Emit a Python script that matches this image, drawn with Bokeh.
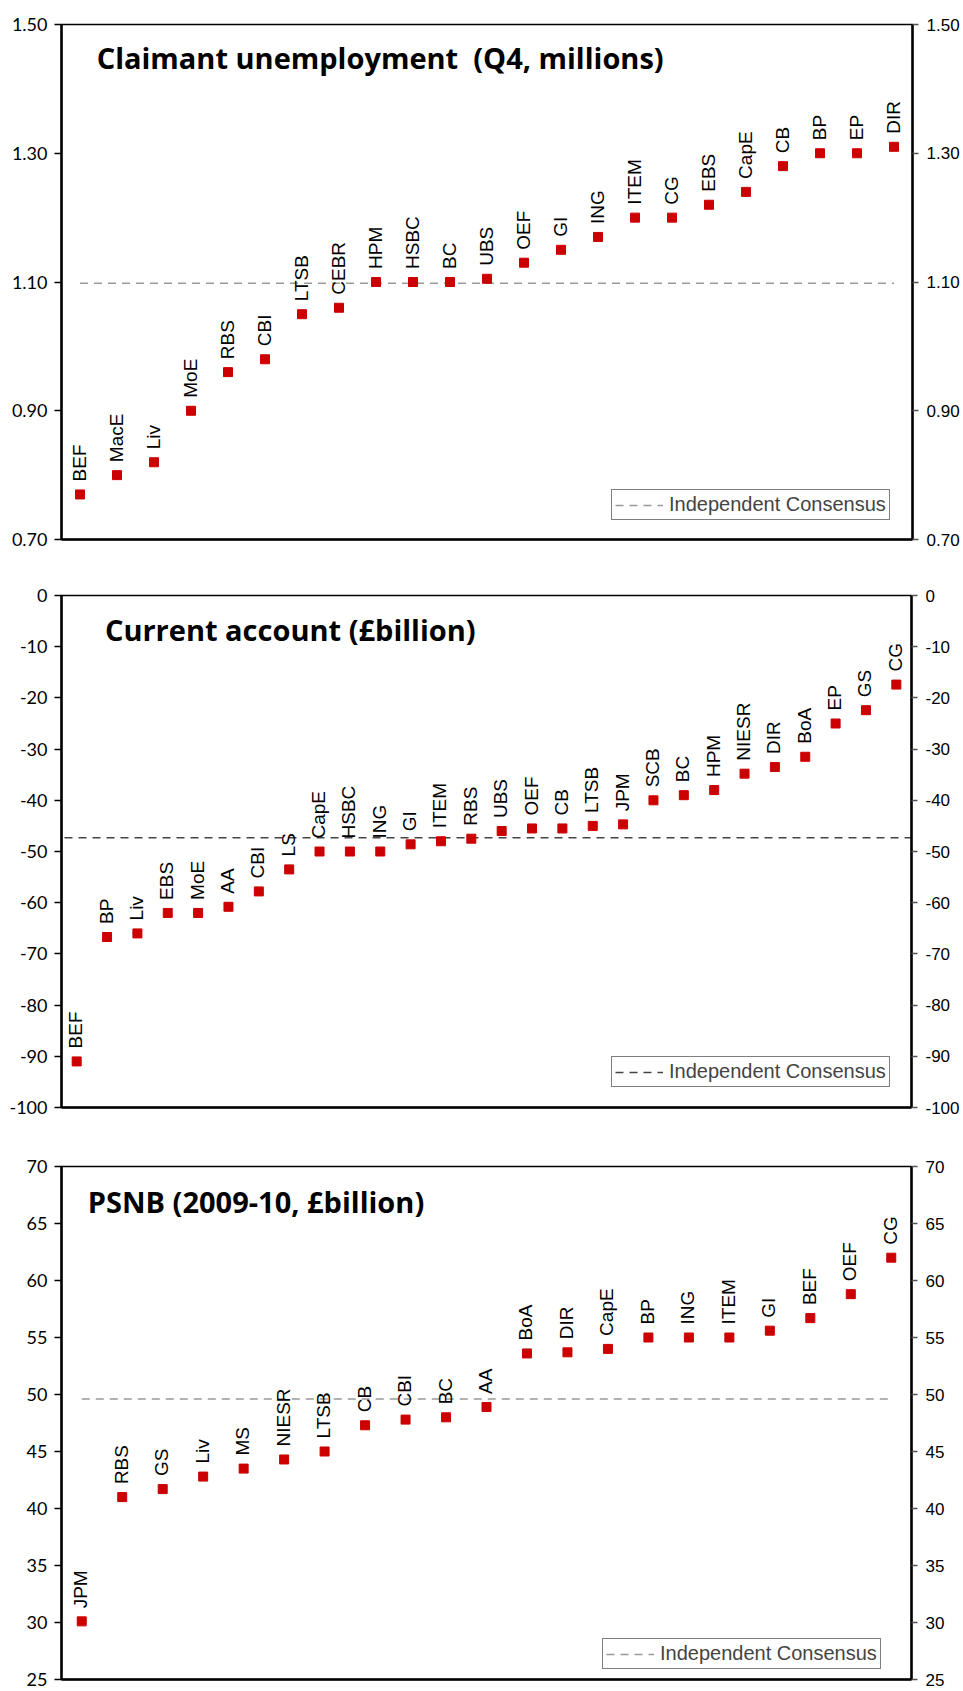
import math
from bokeh.plotting import figure
from bokeh.models import (LinearAxis, FixedTicker, Range1d, ColumnDataSource, Legend,
                          LegendItem, Label, NumeralTickFormatter)
from bokeh.layouts import column
from bokeh.embed import file_html
from bokeh.resources import INLINE
from bokeh.core.properties import value

# ---- Data ----
unemp_names = ["BEF", "MacE", "Liv", "MoE", "RBS", "CBI", "LTSB", "CEBR", "HPM", "HSBC", "BC", "UBS",
               "OEF", "GI", "ING", "ITEM", "CG", "EBS", "CapE", "CB", "BP", "EP", "DIR"]
unemp_values = [0.77, 0.80, 0.82, 0.90, 0.96, 0.98, 1.05, 1.06, 1.10, 1.10, 1.10, 1.105,
                1.13, 1.15, 1.17, 1.20, 1.20, 1.22, 1.24, 1.28, 1.30, 1.30, 1.31]
unemp_consensus = 1.098
unemp_ticks = [0.70, 0.90, 1.10, 1.30, 1.50]

ca_names = ["BEF", "BP", "Liv", "EBS", "MoE", "AA", "CBI", "LS", "CapE", "HSBC", "ING", "GI", "ITEM",
            "RBS", "UBS", "OEF", "CB", "LTSB", "JPM", "SCB", "BC", "HPM", "NIESR", "DIR", "BoA",
            "EP", "GS", "CG"]
ca_values = [-91.0, -66.7, -66.0, -62.0, -62.0, -60.8, -57.8, -53.5, -50.0, -50.0, -50.0, -48.6, -48.0,
             -47.5, -46.0, -45.5, -45.5, -45.0, -44.7, -40.0, -39.0, -38.0, -34.8, -33.5, -31.5,
             -25.0, -22.4, -17.4]
ca_consensus = -47.3
ca_ticks = [0, -10, -20, -30, -40, -50, -60, -70, -80, -90, -100]

psnb_names = ["JPM", "RBS", "GS", "Liv", "MS", "NIESR", "LTSB", "CB", "CBI", "BC", "AA", "BoA", "DIR",
              "CapE", "BP", "ING", "ITEM", "GI", "BEF", "OEF", "CG"]
psnb_values = [30.1, 41.0, 41.7, 42.8, 43.5, 44.3, 45.0, 47.3, 47.8, 48.0, 48.9, 53.6, 53.7,
               54.0, 55.0, 55.0, 55.0, 55.6, 56.7, 58.8, 62.0]
psnb_consensus = 49.6
psnb_ticks = [25, 30, 35, 40, 45, 50, 55, 60, 65, 70]

titles = ["Claimant unemployment\u00a0 (Q4, millions)", "Current account (\u00a3billion)",
          "PSNB (2009-10, \u00a3billion)"]
legend_label = "Independent Consensus"

RED = "#CC0000"


def make_panel(names, vals, cons, ticks, fmt, title, title_pos, frame_w, frame_h,
               borders, leg_loc, cons_color, cons_span):
    n = len(names)
    ymin, ymax = min(ticks), max(ticks)
    bl, br, bt, bb = borders
    p = figure(frame_width=frame_w, frame_height=frame_h,
               x_range=Range1d(0.5, n + 0.5), y_range=Range1d(ymin, ymax),
               output_backend="svg", toolbar_location=None,
               min_border_left=bl, min_border_right=br, min_border_top=bt, min_border_bottom=bb)
    p.grid.visible = False
    p.outline_line_color = "black"
    p.outline_line_width = 1.5
    p.background_fill_color = "white"
    p.border_fill_color = "white"

    # bottom axis: plain line
    p.xaxis.ticker = FixedTicker(ticks=[])
    p.xaxis.axis_line_width = 2.5
    p.xaxis.axis_line_color = "black"
    p.xaxis.major_label_text_font_size = "0px"
    p.xaxis.major_label_standoff = 0
    p.xaxis.major_tick_out = 0
    p.xaxis.major_tick_line_color = None
    p.xaxis.minor_tick_line_color = None

    # left axis
    ya = p.yaxis[0]
    ya.ticker = FixedTicker(ticks=ticks)
    ya.formatter = NumeralTickFormatter(format=fmt)
    ya.axis_line_width = 2.5
    ya.axis_line_color = "black"
    ya.major_tick_out = 7
    ya.major_tick_in = 0
    ya.major_tick_line_width = 1.5
    ya.minor_tick_line_color = None
    ya.major_label_text_font = "Lato"
    ya.major_label_text_font_size = "18px"
    ya.major_label_text_color = "black"
    ya.major_label_standoff = 7

    ra = LinearAxis(ticker=FixedTicker(ticks=ticks), formatter=NumeralTickFormatter(format=fmt))
    ra.axis_line_width = 2.5
    ra.axis_line_color = "black"
    ra.major_tick_out = 6
    ra.major_tick_in = 0
    ra.major_tick_line_width = 1.5
    ra.major_tick_line_color = "#555555"
    ra.minor_tick_line_color = None
    ra.major_label_text_font = "Liberation Sans"
    ra.major_label_text_font_size = "17px"
    ra.major_label_text_color = "black"
    ra.major_label_standoff = 8
    p.add_layout(ra, "right")

    xs = list(range(1, n + 1))
    src = ColumnDataSource(dict(x=xs, y=vals, name=names))

    line_src = ColumnDataSource(dict(x=[cons_span[0], n + cons_span[1]], y=[cons, cons]))
    cl = p.line("x", "y", source=line_src, line_color=cons_color, line_width=1.5, line_dash="8 6")

    p.scatter("x", "y", source=src, marker="square", size=9, fill_color=RED, line_color=RED)
    p.text("x", "y", text="name", source=src, angle=math.pi / 2, text_align="left",
           text_baseline="middle", y_offset=-13, x_offset=-1,
           text_font=value("Liberation Sans"), text_font_size=value("19px"), text_color="black")

    lg = Legend(items=[LegendItem(label=legend_label, renderers=[cl])], location=leg_loc)
    lg.margin = 0
    lg.border_line_color = "black"
    lg.border_line_width = 1
    lg.background_fill_alpha = 1
    lg.label_text_font = "Liberation Sans"
    lg.label_text_font_size = "20px"
    lg.glyph_width = 48
    lg.label_standoff = 6
    lg.padding = 3
    lg.label_height = 20
    lg.glyph_height = 20
    p.add_layout(lg, "center")

    p.add_layout(Label(x=title_pos[0], y=title_pos[1], text=title, text_font="Open Sans",
                       text_font_style="bold", text_font_size="29px", text_color="black",
                       text_baseline="alphabetic"))
    return p


p1 = make_panel(unemp_names, unemp_values, unemp_consensus, unemp_ticks, "0.00", titles[0],
                (1.45, 1.449), 851, 515, (59, 51, 24, 28), (550, 19), "#999999", (1.0, 0.0))
p2 = make_panel(ca_names, ca_values, ca_consensus, ca_ticks, "0", titles[1],
                (1.93, -6.7), 850, 512, (61, 50, 28, 30), (550, 20), "#444444", (0.6, 0.5))
p3 = make_panel(psnb_names, psnb_values, psnb_consensus, psnb_ticks, "0", titles[2],
                (1.15, 66.95), 850, 513, (43, 68, 29, 11), (541, 10), "#999999", (1.0, 0.0))

layout = column(p1, p2, p3, spacing=0)
open("out.html", "w").write(file_html(layout, INLINE))
